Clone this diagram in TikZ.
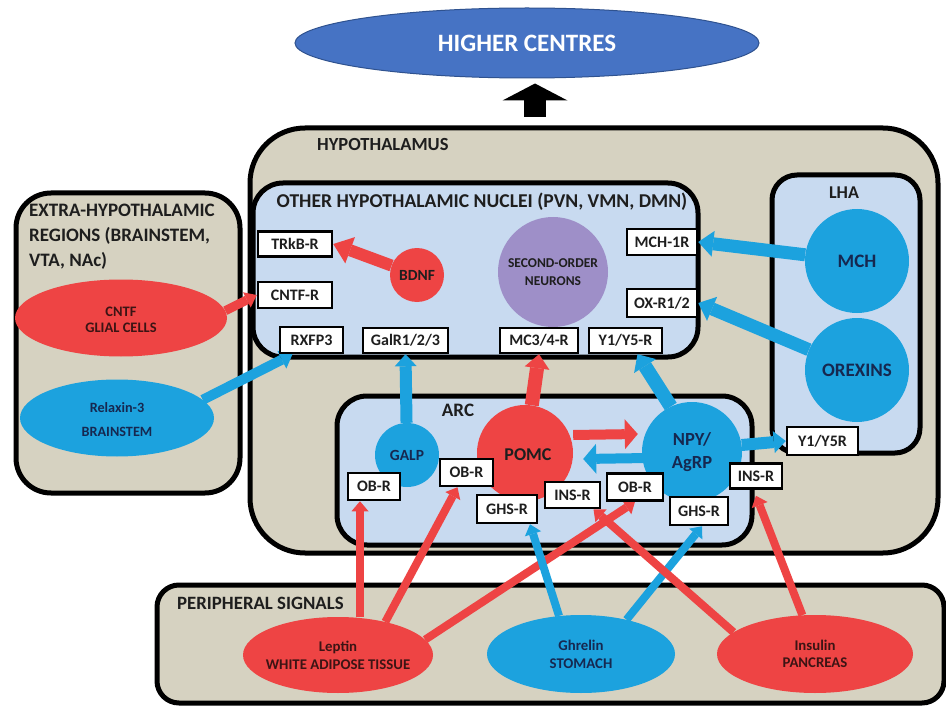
\documentclass[tikz,border=0pt]{standalone}
\usepackage{fontspec}
\setmainfont{Carlito}
\usetikzlibrary{arrows.meta,shapes.geometric}
\definecolor{beige}{RGB}{214,210,193}
\definecolor{lblue}{RGB}{200,218,240}
\definecolor{sred}{RGB}{238,68,68}
\definecolor{sblue}{RGB}{28,162,222}
\definecolor{hblue}{RGB}{70,115,196}
\definecolor{hbord}{RGB}{47,82,143}
\definecolor{purp}{RGB}{158,143,200}
\definecolor{txt}{RGB}{30,30,30}
\definecolor{navy}{RGB}{22,40,80}
\definecolor{dred}{RGB}{60,20,20}
\newcommand\myfs[2]{\fontsize{#1pt}{#2pt}\selectfont\bfseries}
\tikzset{
  region/.style={draw=black, line width=5pt, fill=beige, inner sep=0pt},
  inbox/.style={draw=black, line width=5pt, fill=lblue, inner sep=0pt},
  rec/.style={draw=black, fill=white, line width=2.5pt, inner sep=0pt, text=txt, font=\myfs{16}{18}},
  blob/.style={circle, inner sep=0pt},
  oval/.style={ellipse, inner sep=0pt},
  lbl/.style={inner sep=0pt, align=center, text=txt},
  ttl/.style={inner sep=0pt, text=txt},
  arrw/.style n args={3}{line width=#1, -{Triangle[width=#2,length=#3,line width=0pt]}},
  parr/.style={arrw={8pt}{17pt}{10pt}},
}
\begin{document}
\begin{tikzpicture}[x=1pt,y=-1pt]
\useasboundingbox (0,0) rectangle (946,706);
\fill[white] (0,0) rectangle (946,706);

% containers
\node[region, rounded corners=55pt, minimum width=688pt, minimum height=425pt] (hyp) at (594,340.5) {};
\node[region, rounded corners=35pt, minimum width=224pt, minimum height=300pt] (extra) at (128,343) {};
\node[region, rounded corners=22pt, minimum width=787pt, minimum height=118pt] (periph) at (550.5,644) {};
\node[inbox, rounded corners=30pt, minimum width=445pt, minimum height=174pt] (ohn) at (475.5,270) {};
\node[inbox, rounded corners=25pt, minimum width=148pt, minimum height=278pt] (lha) at (846,314) {};
\node[inbox, rounded corners=30pt, minimum width=415pt, minimum height=149pt] (arc) at (544.5,470.5) {};

% higher centres
\node[oval, fill=hblue, draw=hbord, line width=1pt, minimum width=464pt, minimum height=70pt] (hc) at (527,43) {};
\coordinate (upstart) at (535,117);
\draw[black, arrw={22pt}{65pt}{17pt}] (upstart) -- ([xshift=8pt,yshift=-5pt]hc.south);

% circles
\node[blob, fill=sred, minimum size=54pt] (bdnf) at (417,275) {};
\node[blob, fill=purp, minimum size=110pt] (son) at (553,272) {};
\node[blob, fill=sblue, minimum size=104pt] (mch) at (857,261) {};
\node[blob, fill=sblue, minimum size=104pt] (orex) at (857,370) {};
\node[blob, fill=sblue, minimum size=64pt] (galp) at (407,455) {};
\node[blob, fill=sred, minimum size=96pt] (pomc) at (525,453) {};
\node[blob, fill=sblue, minimum size=100pt] (npy) at (692,452) {};

% ellipses
\node[oval, fill=sred, minimum width=212pt, minimum height=77pt] (cntf) at (121,318) {};
\node[oval, fill=sblue, minimum width=194pt, minimum height=77pt] (relax) at (117,418) {};
\node[oval, fill=sred, minimum width=190pt, minimum height=76pt] (leptin) at (338,655) {};
\node[oval, fill=sblue, minimum width=188pt, minimum height=78pt] (ghrelin) at (581,654) {};
\node[oval, fill=sred, minimum width=196pt, minimum height=78pt] (insulin) at (815,654) {};

% receptor boxes (anchors for the arrows; drawn again on top below)
\path
  (295,244) node[rec, minimum width=74pt, minimum height=25pt] (trkb) {TRkB-R}
  (295,295) node[rec, minimum width=74pt, minimum height=26pt] (cntfr) {CNTF-R}
  (311.5,340) node[rec, minimum width=63pt, minimum height=26pt] (rxfp) {RXFP3}
  (405.5,340.5) node[rec, minimum width=85pt, minimum height=25pt] (galr) {GalR1/2/3}
  (539,340.5) node[rec, minimum width=78pt, minimum height=25pt] (mc34) {MC3/4-R}
  (625.5,340.5) node[rec, minimum width=73pt, minimum height=25pt] (y1y5) {Y1/Y5-R}
  (662,242) node[rec, minimum width=70pt, minimum height=26pt] (mch1r) {MCH-1R}
  (662,303) node[rec, minimum width=70pt, minimum height=28pt] (oxr) {OX-R1/2}
  (822.5,441) node[rec, minimum width=71pt, minimum height=28pt] (y1y5r) {Y1/Y5R}
  (756,476) node[rec, minimum width=52pt, minimum height=25pt] (insr2) {INS-R}
  (374,486.5) node[rec, minimum width=52pt, minimum height=27pt] (obr1) {OB-R}
  (466.5,472.5) node[rec, minimum width=53pt, minimum height=27pt] (obr2) {OB-R}
  (507,509) node[rec, minimum width=60pt, minimum height=28pt] (ghsr1) {GHS-R}
  (572.5,495) node[rec, minimum width=55pt, minimum height=26pt] (insr1) {INS-R}
  (635,487) node[rec, minimum width=56pt, minimum height=27pt] (obr3) {OB-R}
  (699,511) node[rec, minimum width=58pt, minimum height=28pt] (ghsr2) {GHS-R};

% arrows within brain
\draw[sblue, arrw={10pt}{20pt}{12pt}] (relax.12) -- ([xshift=-19pt]rxfp.south);
\draw[sred, arrw={9pt}{17pt}{11pt}] (cntf.4) -- (cntfr.west);
\draw[sred, arrw={12pt}{28pt}{18pt}] (bdnf) -- (trkb.east);
\draw[sblue, arrw={13pt}{26pt}{15pt}] (mch) -- (mch1r.east);
\draw[sblue, arrw={13pt}{26pt}{15pt}] (orex) -- (oxr.east);
\draw[sblue, arrw={12pt}{22pt}{12pt}] (galp) -- (galr.south);
\draw[sred, arrw={14pt}{25pt}{14pt}] (pomc) -- (mc34.south);
\draw[sred, arrw={10pt}{30pt}{13pt}] ([yshift=18pt]pomc.east) -- ([yshift=18pt,xshift=-4pt]npy.west);
\draw[sblue, arrw={10pt}{30pt}{13pt}] ([yshift=-6pt,xshift=6pt]npy.west) -- ([yshift=-6pt,xshift=10pt]pomc.east);
\draw[sblue, arrw={14pt}{26pt}{14pt}] (npy.115) -- ([xshift=12pt]y1y5.south);
\draw[sblue, arrw={12pt}{22pt}{12pt}] (npy.8) -- (y1y5r.west);

% peripheral arrows
\draw[sred, parr] ([xshift=22pt]leptin.north) -- ([xshift=-14pt]obr1.south);
\draw[sred, parr] (leptin.35) -- ([xshift=-9pt]obr2.south);
\draw[sred, parr] (leptin.10) -- (obr3.south);
\draw[sblue, parr] (ghrelin.120) -- ([xshift=23pt]ghsr1.south);
\draw[sblue, parr] (ghrelin.37) -- ([xshift=3pt]ghsr2.south);
\draw[sred, parr] (insulin.165) -- ([xshift=21pt]insr1.south);
\draw[sred, parr] (insulin.108) -- ([yshift=-6pt]insr2.south);

% receptor boxes on top
\path
  (trkb) node[rec, minimum width=74pt, minimum height=25pt] (trkbB) {TRkB-R}
  (cntfr) node[rec, minimum width=74pt, minimum height=26pt] (cntfrB) {CNTF-R}
  (rxfp) node[rec, minimum width=63pt, minimum height=26pt] (rxfpB) {RXFP3}
  (galr) node[rec, minimum width=85pt, minimum height=25pt] (galrB) {GalR1/2/3}
  (mc34) node[rec, minimum width=78pt, minimum height=25pt] (mc34B) {MC3/4-R}
  (y1y5) node[rec, minimum width=73pt, minimum height=25pt] (y1y5B) {Y1/Y5-R}
  (mch1r) node[rec, minimum width=70pt, minimum height=26pt] (mch1rB) {MCH-1R}
  (oxr) node[rec, minimum width=70pt, minimum height=28pt] (oxrB) {OX-R1/2}
  (y1y5r) node[rec, minimum width=71pt, minimum height=28pt] (y1y5rB) {Y1/Y5R}
  (insr2) node[rec, minimum width=52pt, minimum height=25pt] (insr2B) {INS-R}
  (obr1) node[rec, minimum width=52pt, minimum height=27pt] (obr1B) {OB-R}
  (obr2) node[rec, minimum width=53pt, minimum height=27pt] (obr2B) {OB-R}
  (ghsr1) node[rec, minimum width=60pt, minimum height=28pt] (ghsr1B) {GHS-R}
  (insr1) node[rec, minimum width=55pt, minimum height=26pt] (insr1B) {INS-R}
  (obr3) node[rec, minimum width=56pt, minimum height=27pt] (obr3B) {OB-R}
  (ghsr2) node[rec, minimum width=58pt, minimum height=28pt] (ghsr2B) {GHS-R};

% texts
\node[lbl, text=white, font=\myfs{25}{25}] (hct) at (hc) {HIGHER CENTRES};
\node[ttl, anchor=west, font=\myfs{18.5}{18.5}] (hyptl) at (317,145) {HYPOTHALAMUS};
\node[ttl, font=\myfs{19.6}{19.6}] (ohntl) at (482,202) {OTHER HYPOTHALAMIC NUCLEI (PVN, VMN, DMN)};
\node[ttl, font=\myfs{18}{18}] (lhatl) at (844,193) {LHA};
\node[ttl, font=\myfs{19}{19}] (arctl) at (458,410) {ARC};
\node[ttl, anchor=north west, align=left, font=\myfs{19}{25}] (extl) at (29,204) {EXTRA-HYPOTHALAMIC\\REGIONS (BRAINSTEM,\\VTA, NAc)};
\node[ttl, anchor=west, font=\myfs{18.8}{18.8}] (pstl) at (177,603) {PERIPHERAL SIGNALS};

\node[lbl, font=\myfs{15.5}{15.5}] (bdnft) at (bdnf) {BDNF};
\node[lbl, font=\myfs{13.5}{18}] (sont) at (son) {SECOND-ORDER\\NEURONS};
\node[lbl, text=navy, font=\myfs{19}{19}] (mcht) at (mch) {MCH};
\node[lbl, text=navy, font=\myfs{19}{19}] (orext) at (orex) {OREXINS};
\node[lbl, text=navy, font=\myfs{15.5}{15.5}] (galpt) at (galp) {GALP};
\node[lbl, font=\myfs{18}{18}] (pomct) at ([xshift=3pt,yshift=-2pt]pomc) {POMC};
\node[lbl, text=navy, font=\myfs{18.5}{23}] (npyt) at (npy) {NPY/\\AgRP};
\node[lbl, text=dred, font=\myfs{14.5}{16}] (cntft) at ([yshift=-2pt]cntf) {CNTF\\GLIAL CELLS};
\node[lbl, text=navy, font=\myfs{14.2}{24}] (relaxt) at ([yshift=-2pt]relax) {Relaxin-3\\BRAINSTEM};
\node[lbl, text=dred, font=\myfs{14.8}{18}] (leptint) at (leptin) {Leptin\\WHITE ADIPOSE TISSUE};
\node[lbl, text=navy, font=\myfs{14.8}{18}] (ghrelint) at (ghrelin) {Ghrelin\\STOMACH};
\node[lbl, text=dred, font=\myfs{14.8}{17}] (insulint) at (insulin) {Insulin\\PANCREAS};
\end{tikzpicture}
\end{document}
